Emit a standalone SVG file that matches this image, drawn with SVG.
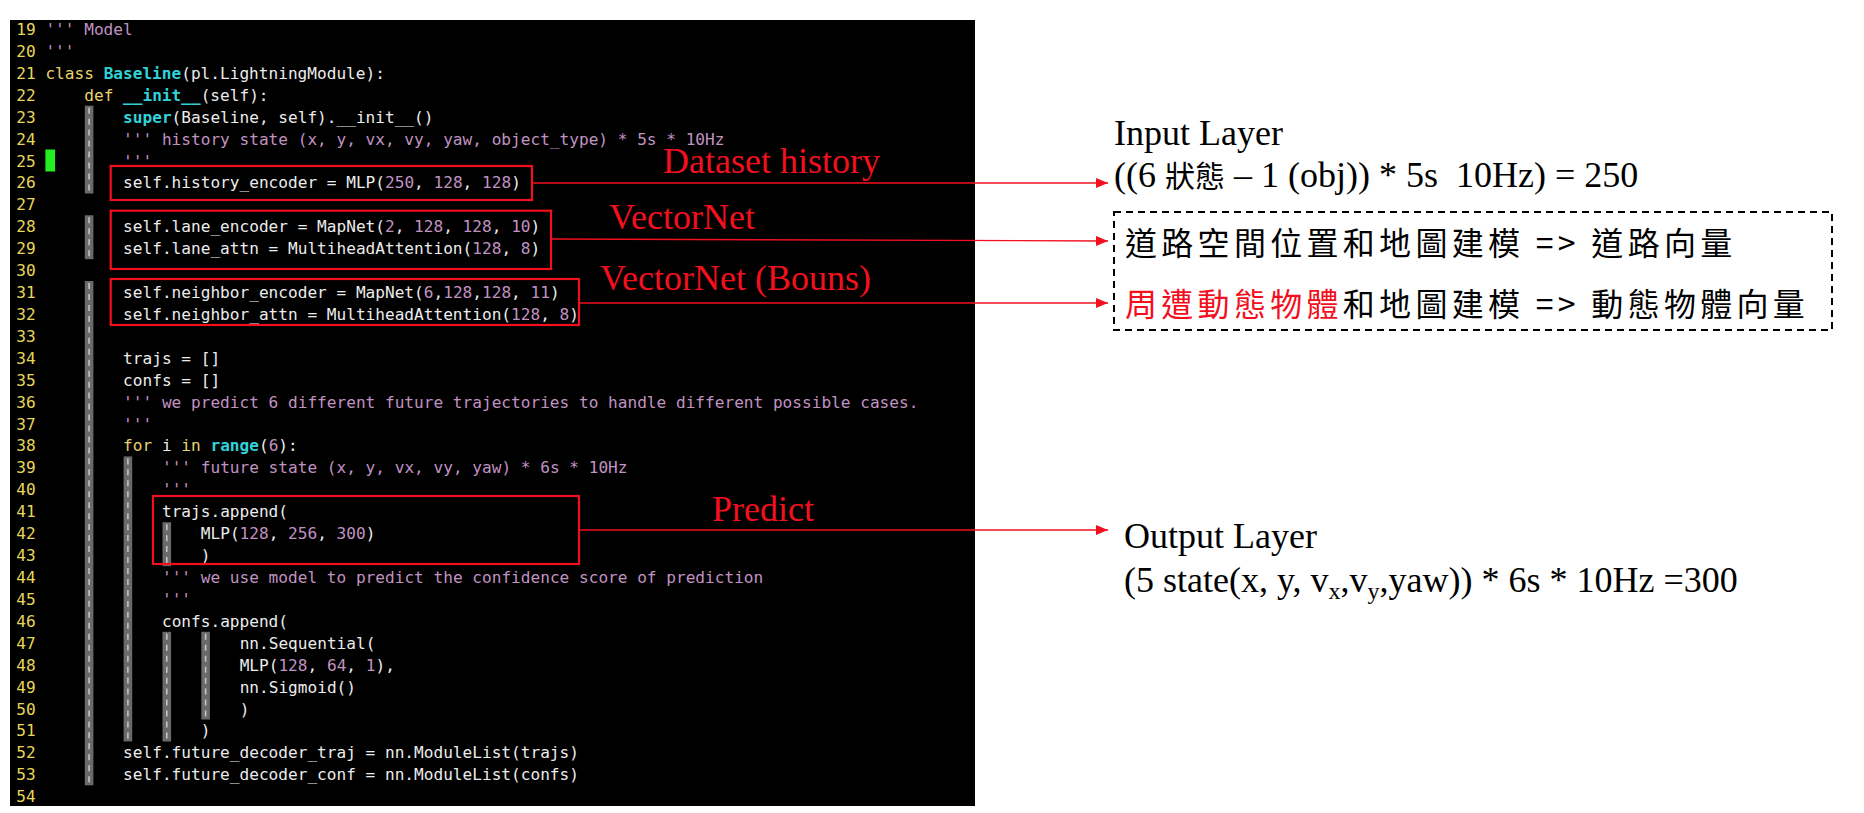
<svg xmlns="http://www.w3.org/2000/svg" width="1864" height="813" viewBox="0 0 1864 813">
<style>
.code{font-family:"DejaVu Sans Mono",monospace;font-size:16.13px;fill:#ececec;white-space:pre}
.ln{fill:#e6d65a}
.kw{fill:#e8d46e}
.fn{fill:#2fd3d8;font-weight:bold}
.st{fill:#c092c2}
.bar{fill:#6a6a6a}
.dash{stroke:#c4c4c4;stroke-width:1.6;stroke-dasharray:6 4.96;fill:none}
.rbox{fill:none;stroke:#f2101e;stroke-width:2.2}
.conn{stroke:#f2101e;stroke-width:1.3;fill:none}
.rlab{font-family:"Liberation Serif","Times New Roman",serif;font-size:36px;fill:#f2101e}
.blab{font-family:"Liberation Serif","Noto Sans CJK TC",serif;font-size:36px;fill:#000;white-space:pre}
.cjk{font-family:"Noto Sans CJK TC","Noto Sans CJK SC",sans-serif;font-size:32px;fill:#000;letter-spacing:4.3px}
</style>
<defs>
<marker id="ah" markerUnits="userSpaceOnUse" markerWidth="13" markerHeight="11" refX="12" refY="5" orient="auto">
<path d="M0,0 L12,5 L0,10 z" fill="#f2101e"/>
</marker>
</defs>
<rect width="1864" height="813" fill="#fff"/>
<g id="code-panel">
<rect x="10" y="20" width="965" height="786" fill="#000"/>
<g id="indent-guides">
<rect class="bar" x="84.8" y="105.7" width="8.6" height="87.8"/>
<rect class="bar" x="84.8" y="215.3" width="8.6" height="43.9"/>
<rect class="bar" x="84.8" y="281" width="8.6" height="504.3"/>
<rect class="bar" x="123.6" y="456.4" width="8.6" height="285"/>
<rect class="bar" x="162.5" y="522.2" width="8.6" height="43.9"/>
<rect class="bar" x="162.5" y="631.8" width="8.6" height="109.7"/>
<rect class="bar" x="201.3" y="631.8" width="8.6" height="87.7"/>
<line class="dash" x1="89.1" y1="107.7" x2="89.1" y2="193.4"/>
<line class="dash" x1="89.1" y1="217.3" x2="89.1" y2="259.2"/>
<line class="dash" x1="89.1" y1="283" x2="89.1" y2="785.3"/>
<line class="dash" x1="127.9" y1="458.4" x2="127.9" y2="741.4"/>
<line class="dash" x1="166.8" y1="524.2" x2="166.8" y2="566.1"/>
<line class="dash" x1="166.8" y1="633.8" x2="166.8" y2="741.4"/>
<line class="dash" x1="205.6" y1="633.8" x2="205.6" y2="719.5"/>
</g>
<rect x="45.4" y="149.5" width="9.7" height="22" fill="#22ee22"/>
<g class="code">
<text x="16.3" y="35"><tspan class="ln">19</tspan></text>
<text x="45.43" y="35" class="st">''' Model</text>
<text x="16.3" y="56.92"><tspan class="ln">20</tspan></text>
<text x="45.43" y="56.92" class="st">'''</text>
<text x="16.3" y="78.84"><tspan class="ln">21</tspan></text>
<text x="45.43" y="78.84"><tspan class="kw">class</tspan> <tspan class="fn">Baseline</tspan>(pl.LightningModule):</text>
<text x="16.3" y="100.76"><tspan class="ln">22</tspan></text>
<text x="84.27" y="100.76"><tspan class="kw">def</tspan> <tspan class="fn">__init__</tspan>(self):</text>
<text x="16.3" y="122.68"><tspan class="ln">23</tspan></text>
<text x="123.11" y="122.68"><tspan class="fn">super</tspan>(Baseline, self).__init__()</text>
<text x="16.3" y="144.6"><tspan class="ln">24</tspan></text>
<text x="123.11" y="144.6" class="st">''' history state (x, y, vx, vy, yaw, object_type) * 5s * 10Hz</text>
<text x="16.3" y="166.52"><tspan class="ln">25</tspan></text>
<text x="123.11" y="166.52" class="st">'''</text>
<text x="16.3" y="188.44"><tspan class="ln">26</tspan></text>
<text x="123.11" y="188.44">self.history_encoder = MLP(<tspan class="st">250</tspan>, <tspan class="st">128</tspan>, <tspan class="st">128</tspan>)</text>
<text x="16.3" y="210.36"><tspan class="ln">27</tspan></text>
<text x="16.3" y="232.28"><tspan class="ln">28</tspan></text>
<text x="123.11" y="232.28">self.lane_encoder = MapNet(<tspan class="st">2</tspan>, <tspan class="st">128</tspan>, <tspan class="st">128</tspan>, <tspan class="st">10</tspan>)</text>
<text x="16.3" y="254.2"><tspan class="ln">29</tspan></text>
<text x="123.11" y="254.2">self.lane_attn = MultiheadAttention(<tspan class="st">128</tspan>, <tspan class="st">8</tspan>)</text>
<text x="16.3" y="276.12"><tspan class="ln">30</tspan></text>
<text x="16.3" y="298.04"><tspan class="ln">31</tspan></text>
<text x="123.11" y="298.04">self.neighbor_encoder = MapNet(<tspan class="st">6</tspan>,<tspan class="st">128</tspan>,<tspan class="st">128</tspan>, <tspan class="st">11</tspan>)</text>
<text x="16.3" y="319.96"><tspan class="ln">32</tspan></text>
<text x="123.11" y="319.96">self.neighbor_attn = MultiheadAttention(<tspan class="st">128</tspan>, <tspan class="st">8</tspan>)</text>
<text x="16.3" y="341.88"><tspan class="ln">33</tspan></text>
<text x="16.3" y="363.8"><tspan class="ln">34</tspan></text>
<text x="123.11" y="363.8">trajs = []</text>
<text x="16.3" y="385.72"><tspan class="ln">35</tspan></text>
<text x="123.11" y="385.72">confs = []</text>
<text x="16.3" y="407.64"><tspan class="ln">36</tspan></text>
<text x="123.11" y="407.64" class="st">''' we predict 6 different future trajectories to handle different possible cases.</text>
<text x="16.3" y="429.56"><tspan class="ln">37</tspan></text>
<text x="123.11" y="429.56" class="st">'''</text>
<text x="16.3" y="451.48"><tspan class="ln">38</tspan></text>
<text x="123.11" y="451.48"><tspan class="kw">for</tspan> i <tspan class="kw">in</tspan> <tspan class="fn">range</tspan>(<tspan class="st">6</tspan>):</text>
<text x="16.3" y="473.4"><tspan class="ln">39</tspan></text>
<text x="161.95" y="473.4" class="st">''' future state (x, y, vx, vy, yaw) * 6s * 10Hz</text>
<text x="16.3" y="495.32"><tspan class="ln">40</tspan></text>
<text x="161.95" y="495.32" class="st">'''</text>
<text x="16.3" y="517.24"><tspan class="ln">41</tspan></text>
<text x="161.95" y="517.24">trajs.append(</text>
<text x="16.3" y="539.16"><tspan class="ln">42</tspan></text>
<text x="200.79" y="539.16">MLP(<tspan class="st">128</tspan>, <tspan class="st">256</tspan>, <tspan class="st">300</tspan>)</text>
<text x="16.3" y="561.08"><tspan class="ln">43</tspan></text>
<text x="200.79" y="561.08">)</text>
<text x="16.3" y="583"><tspan class="ln">44</tspan></text>
<text x="161.95" y="583" class="st">''' we use model to predict the confidence score of prediction</text>
<text x="16.3" y="604.92"><tspan class="ln">45</tspan></text>
<text x="161.95" y="604.92" class="st">'''</text>
<text x="16.3" y="626.84"><tspan class="ln">46</tspan></text>
<text x="161.95" y="626.84">confs.append(</text>
<text x="16.3" y="648.76"><tspan class="ln">47</tspan></text>
<text x="239.63" y="648.76">nn.Sequential(</text>
<text x="16.3" y="670.68"><tspan class="ln">48</tspan></text>
<text x="239.63" y="670.68">MLP(<tspan class="st">128</tspan>, <tspan class="st">64</tspan>, <tspan class="st">1</tspan>),</text>
<text x="16.3" y="692.6"><tspan class="ln">49</tspan></text>
<text x="239.63" y="692.6">nn.Sigmoid()</text>
<text x="16.3" y="714.52"><tspan class="ln">50</tspan></text>
<text x="239.63" y="714.52">)</text>
<text x="16.3" y="736.44"><tspan class="ln">51</tspan></text>
<text x="200.79" y="736.44">)</text>
<text x="16.3" y="758.36"><tspan class="ln">52</tspan></text>
<text x="123.11" y="758.36">self.future_decoder_traj = nn.ModuleList(trajs)</text>
<text x="16.3" y="780.28"><tspan class="ln">53</tspan></text>
<text x="123.11" y="780.28">self.future_decoder_conf = nn.ModuleList(confs)</text>
<text x="16.3" y="802.2"><tspan class="ln">54</tspan></text>
</g>
</g>
<g id="box-history"><rect class="rbox" x="110.7" y="166" width="421.3" height="34"/></g>
<g id="box-lane"><rect class="rbox" x="110.7" y="210.7" width="440.3" height="58.3"/></g>
<g id="box-neighbor"><rect class="rbox" x="110.7" y="279" width="468.3" height="46"/></g>
<g id="box-predict"><rect class="rbox" x="153" y="496" width="426" height="68"/></g>
<g id="label-dataset"><text class="rlab" x="663" y="173">Dataset history</text></g>
<g id="label-vectornet"><text class="rlab" x="609" y="229">VectorNet</text></g>
<g id="label-vectornet-bonus"><text class="rlab" x="600" y="290">VectorNet (Bouns)</text></g>
<g id="label-predict"><text class="rlab" x="712" y="521">Predict</text></g>
<g id="connectors">
<line class="conn" x1="532" y1="183" x2="1108" y2="183" marker-end="url(#ah)"/>
<line class="conn" x1="551" y1="239" x2="1108" y2="241" marker-end="url(#ah)"/>
<line class="conn" x1="579" y1="303" x2="1108" y2="303" marker-end="url(#ah)"/>
<line class="conn" x1="579" y1="530" x2="1108" y2="530" marker-end="url(#ah)"/>
</g>
<g id="input-layer">
<text class="blab" x="1114" y="145">Input Layer</text>
<text class="blab" x="1114" y="187">((6 <tspan font-family="Noto Sans CJK TC, sans-serif" font-size="30">狀態</tspan> – 1 (obj)) * 5s  10Hz) = 250</text>
</g>
<g id="vector-box">
<rect x="1114" y="212" width="718" height="118" fill="none" stroke="#000" stroke-width="2" stroke-dasharray="7 5"/>
<text class="cjk" x="1125" y="255">道路空間位置和地圖建模 =&gt; 道路向量</text>
<text class="cjk" x="1125" y="316"><tspan fill="#f2101e">周遭動態物體</tspan>和地圖建模 =&gt; 動態物體向量</text>
</g>
<g id="output-layer">
<text class="blab" x="1124" y="548">Output Layer</text>
<text class="blab" x="1124" y="592">(5 state(x, y, v<tspan font-size="24" dy="7">x</tspan><tspan dy="-7">,v</tspan><tspan font-size="24" dy="7">y</tspan><tspan dy="-7">,yaw)) * 6s * 10Hz =300</tspan></text>
</g>
</svg>
